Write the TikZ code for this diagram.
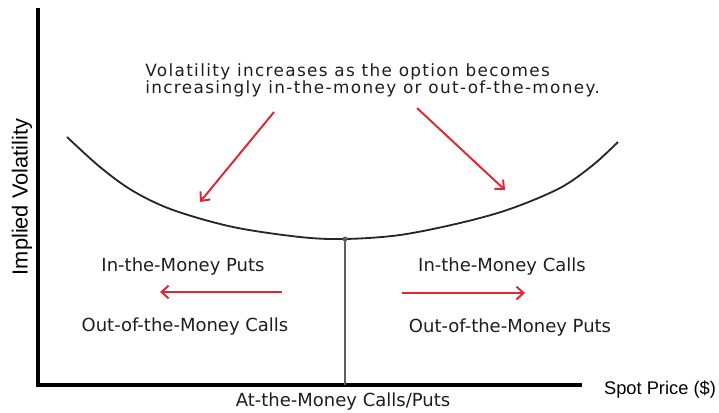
\documentclass[tikz,border=0pt]{standalone}
\usepackage{fontspec}
\setmainfont{DejaVu Sans}
\newfontfamily\arialfont{Liberation Sans}
\newfontfamily\notefont[LetterSpace=8]{DejaVu Sans}
\usepackage{tikz}
\usetikzlibrary{arrows.meta, positioning}
\definecolor{arrowred}{RGB}{222,40,52}
\definecolor{atmgray}{RGB}{95,95,95}
\definecolor{textgray}{RGB}{30,30,30}
\tikzstyle{axis} = [line width=2.2pt, line cap=rect]
\tikzstyle{smile} = [line width=1.3pt, black!85]
\tikzstyle{redarrow} = [line width=1.4pt, arrowred, -{Straight Barb[length=5pt, width=9pt, line width=1.4pt]}]
\tikzstyle{label} = [inner sep=0pt, text=textgray, font=\fontsize{12.8}{14}\selectfont]
\tikzstyle{axislabel} = [inner sep=0pt, font=\arialfont]

\begin{document}
\begin{tikzpicture}[x=0.025cm, y=-0.025cm]
        \useasboundingbox (0,0) rectangle (719,413);

		% Axes
		\coordinate (origin) at (38,385);
		\coordinate (ytop) at (38,10);
		\coordinate (xend) at (580,385);
		\draw [axis] (ytop) -- (origin) -- (xend);

		% Volatility smile
		\coordinate (atmpt) at (345,239);
		\coordinate (atmbase) at (345,385);
		\draw [smile] plot [smooth, tension=0.55] coordinates {(67,137) (100,167) (133,191) (173,210) (233,227) (300,237) (345,239) (400,235) (460,223) (510,209) (560,188) (593,165) (618,142)};
		\draw [atmgray, line width=1.4pt] (atmpt) -- (atmbase);
		\fill [atmgray] (atmpt) circle (2.5);

		% Texts
		\node (note) [label, align=left, font=\notefont\fontsize{12}{10.2}\selectfont, anchor=north west] at (145,63) {Volatility increases as the option becomes\\increasingly in-the-money or out-of-the-money.};
		\node (putsitm) [label] at (183,267) {In-the-Money Puts};
		\node (callsotm) [label] at (185,327) {Out-of-the-Money Calls};
		\node (callsitm) [label] at (502,267) {In-the-Money Calls};
		\node (putsotm) [label] at (510,328) {Out-of-the-Money Puts};
		\node (atm) [label] at (343,402) {At-the-Money Calls/Puts};
		\node (spot) [axislabel, font=\arialfont\fontsize{13}{15}\selectfont] at (660,390) {Spot Price (\$)};
		\node (ylabel) [axislabel, rotate=90, font=\arialfont\fontsize{15.5}{17}\selectfont] at (22,197) {Implied Volatility};

		% Arrows
		\coordinate (la1) at (274,112);
		\coordinate (la2) at (200,202);
		\coordinate (ra1) at (417,108);
		\coordinate (ra2) at (505,190);
		\coordinate (pa1) at (282,292);
		\coordinate (pa2) at (160,292);
		\coordinate (ca1) at (402,293);
		\coordinate (ca2) at (525,293);
		\draw [redarrow] (la1) -- (la2);
		\draw [redarrow] (ra1) -- (ra2);
		\draw [redarrow] (pa1) -- (pa2);
		\draw [redarrow] (ca1) -- (ca2);

\end{tikzpicture}
\end{document}
